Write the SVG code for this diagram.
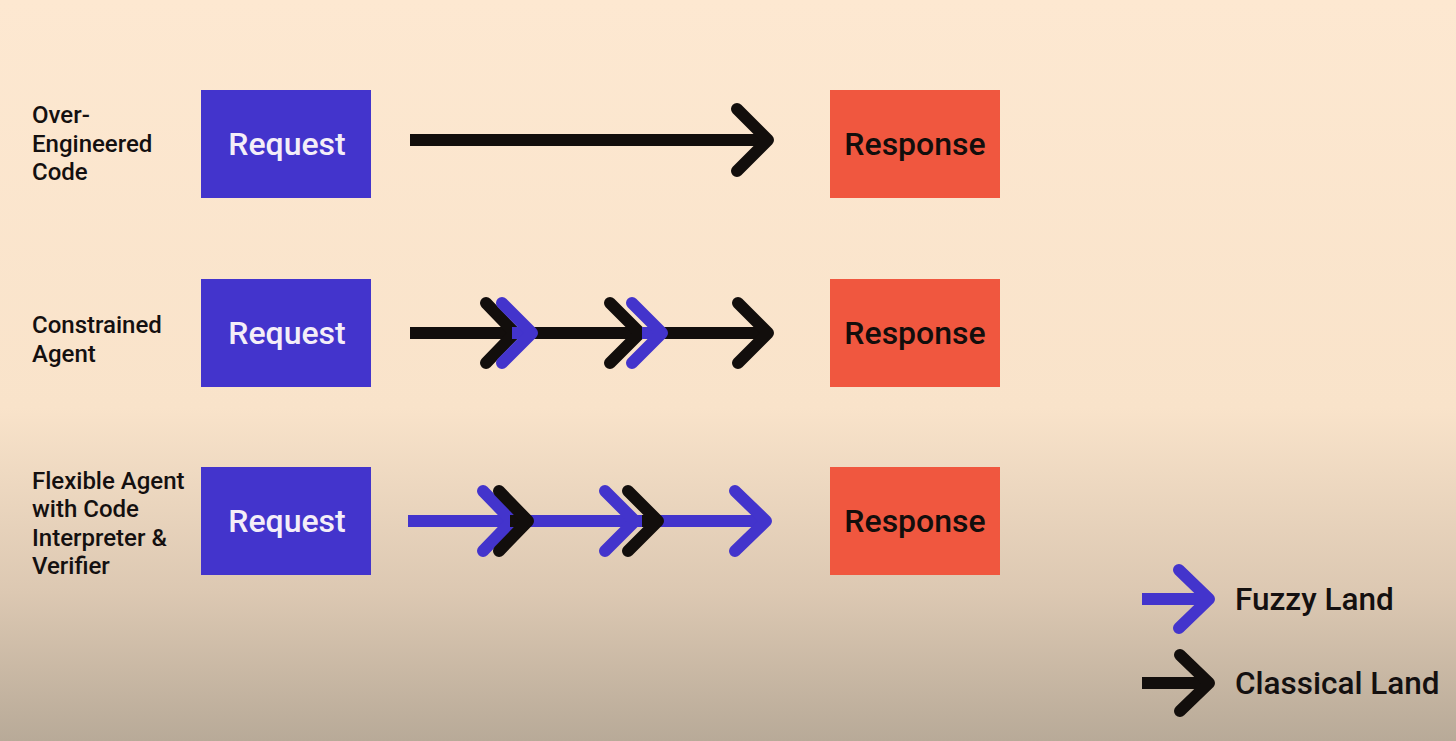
<svg xmlns="http://www.w3.org/2000/svg" width="1456" height="741" viewBox="0 0 1456 741">
  <defs>
    <linearGradient id="bg" x1="0" y1="0" x2="0" y2="1">
      <stop offset="0" stop-color="#FDE8D1"/>
      <stop offset="0.55" stop-color="#F9E3CA"/>
      <stop offset="0.8" stop-color="#DCC8B2"/>
      <stop offset="1" stop-color="#B8AA98"/>
    </linearGradient>
    <style>
      .lbl { font-family: Roboto, "Liberation Sans", sans-serif; font-weight: 500; font-size: 24px; fill: #141010; }
      .req { fill: #4334CC; }
      .resp { fill: #F0573F; }
      .boxt { font-family: Roboto, "Liberation Sans", sans-serif; font-weight: 500; font-size: 32px; text-anchor: middle; }
      .k { stroke: #120E0C; stroke-width: 12; fill: none; stroke-linecap: round; stroke-linejoin: round; }
      .b { stroke: #4334CC; stroke-width: 12; fill: none; stroke-linecap: round; stroke-linejoin: round; }
      .kl { stroke: #120E0C; stroke-width: 12; fill: none; stroke-linecap: butt; }
      .bl { stroke: #4334CC; stroke-width: 12; fill: none; stroke-linecap: butt; }
      .leg { font-family: Roboto, "Liberation Sans", sans-serif; font-weight: 500; font-size: 31.5px; fill: #141010; }
    </style>
  </defs>
  <rect width="1456" height="741" fill="url(#bg)"/>

  <g id="labels">
    <text class="lbl" x="32" y="123">Over-</text>
    <text class="lbl" x="32" y="152">Engineered</text>
    <text class="lbl" x="32" y="180">Code</text>
    <text class="lbl" x="32" y="333">Constrained</text>
    <text class="lbl" x="32" y="362">Agent</text>
    <text class="lbl" x="32" y="489">Flexible Agent</text>
    <text class="lbl" x="32" y="517">with Code</text>
    <text class="lbl" x="32" y="546">Interpreter &amp;</text>
    <text class="lbl" x="32" y="574">Verifier</text>
  </g>

  <g id="request1"><rect class="req" x="201" y="90" width="170" height="108"/><text class="boxt" x="287" y="155" fill="#F4EEF8">Request</text></g>
  <g id="request2"><rect class="req" x="201" y="279" width="170" height="108"/><text class="boxt" x="287" y="344" fill="#F4EEF8">Request</text></g>
  <g id="request3"><rect class="req" x="201" y="467" width="170" height="108"/><text class="boxt" x="287" y="532" fill="#F4EEF8">Request</text></g>

  <g id="response1"><rect class="resp" x="830" y="90" width="170" height="108"/><text class="boxt" x="915" y="155" fill="#120E0C">Response</text></g>
  <g id="response2"><rect class="resp" x="830" y="279" width="170" height="108"/><text class="boxt" x="915" y="344" fill="#120E0C">Response</text></g>
  <g id="response3"><rect class="resp" x="830" y="467" width="170" height="108"/><text class="boxt" x="915" y="532" fill="#120E0C">Response</text></g>

  <g id="connectors">
    <!-- Row 1 -->
    <line class="kl" x1="410" y1="140" x2="766" y2="140"/>
    <polyline class="k" points="737,109 768,140 737,171"/>

    <!-- Row 2 -->
    <line class="kl" x1="410" y1="333" x2="766" y2="333"/>
    <polyline class="k" points="486,303 515,333 486,363"/>
    <line class="bl" x1="512" y1="333" x2="530" y2="333"/>
    <polyline class="b" points="502,303 532,333 502,363"/>
    <polyline class="k" points="610,303 640,333 610,363"/>
    <line class="bl" x1="642" y1="333" x2="660" y2="333"/>
    <polyline class="b" points="632,303 662,333 632,363"/>
    <polyline class="k" points="738,303 768,333 738,363"/>

    <!-- Row 3 -->
    <line class="bl" x1="408" y1="521" x2="764" y2="521"/>
    <polyline class="b" points="483,491 512,521 483,551"/>
    <line class="kl" x1="510" y1="521" x2="526" y2="521"/>
    <polyline class="k" points="499,491 528,521 499,551"/>
    <polyline class="b" points="605,491 635,521 605,551"/>
    <line class="kl" x1="642" y1="521" x2="656" y2="521"/>
    <polyline class="k" points="628,491 658,521 628,551"/>
    <polyline class="b" points="735,491 766,521 735,551"/>
  </g>

  <g id="legend">
    <line class="bl" x1="1142" y1="599" x2="1208" y2="599"/>
    <polyline class="b" points="1179,570 1209,599 1179,628"/>
    <text class="leg" x="1235" y="610">Fuzzy Land</text>
    <line class="kl" x1="1142" y1="683" x2="1208" y2="683"/>
    <polyline class="k" points="1180,655 1209,683 1180,711"/>
    <text class="leg" x="1235" y="694">Classical Land</text>
  </g>
</svg>
